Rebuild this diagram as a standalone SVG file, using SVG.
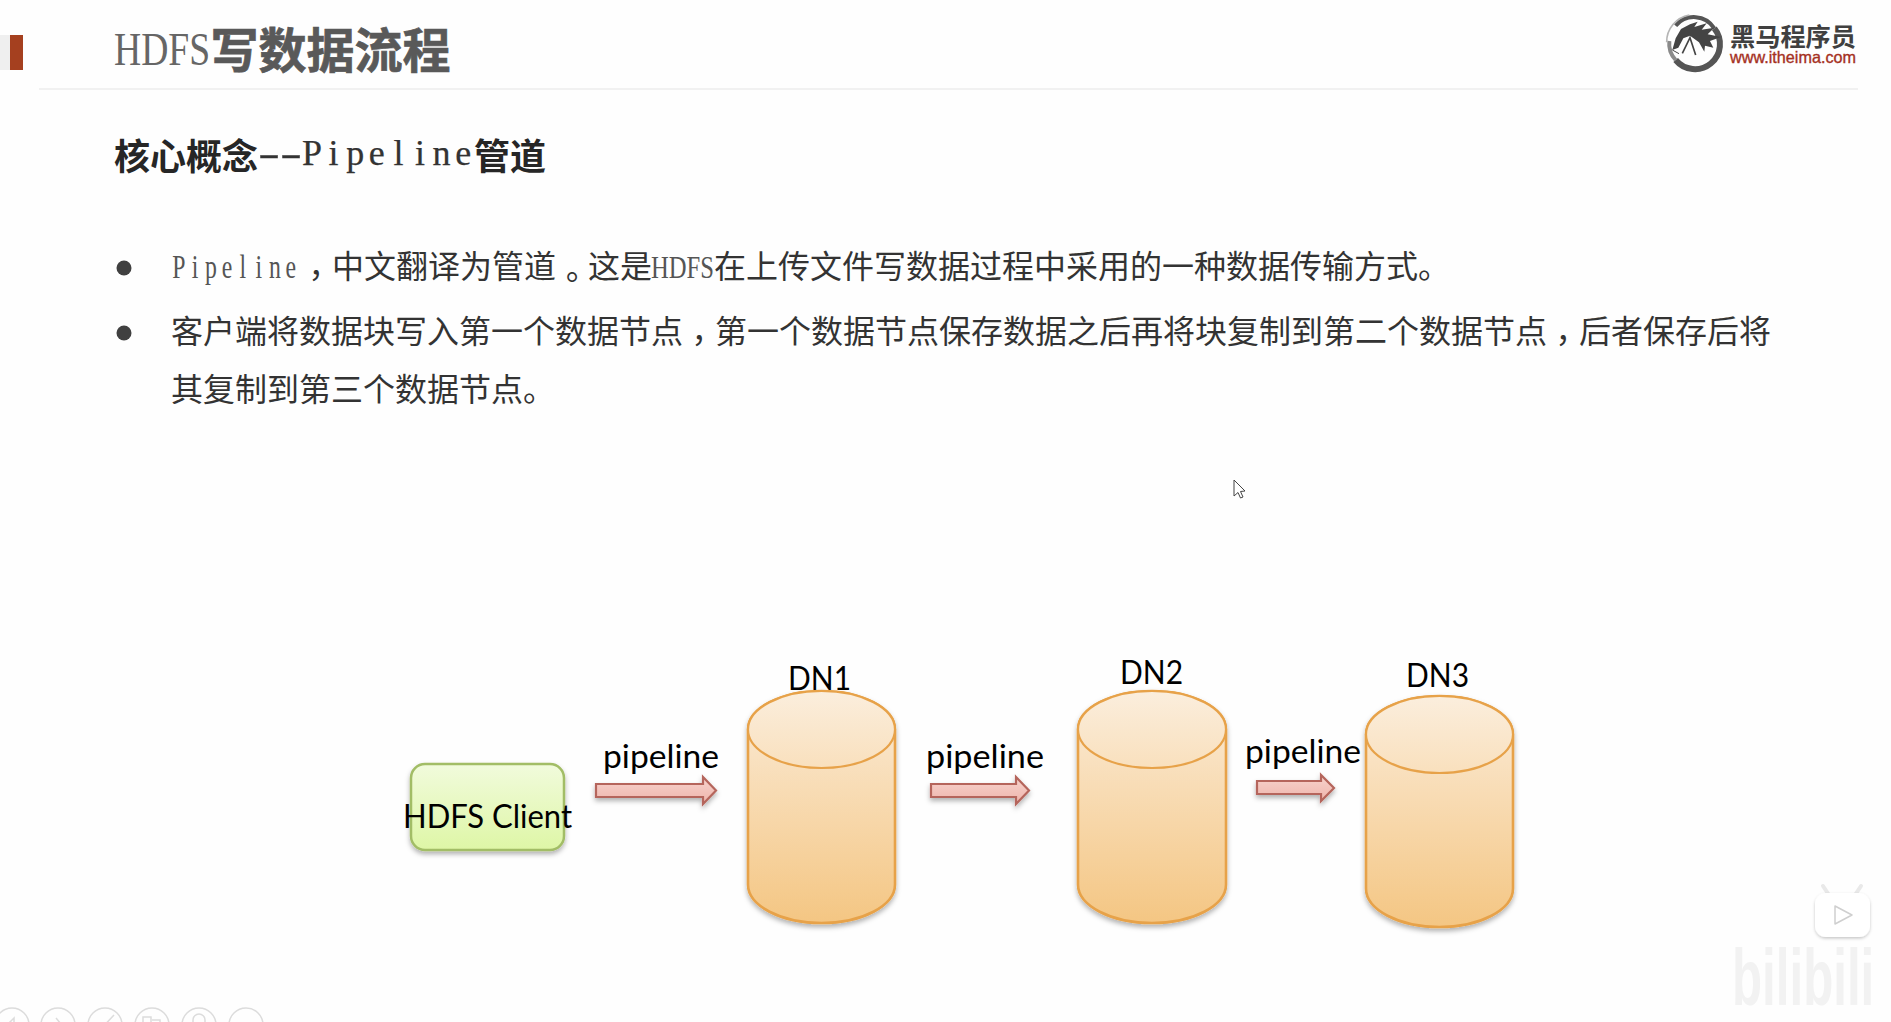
<svg xmlns="http://www.w3.org/2000/svg" width="1891" height="1022" viewBox="0 0 1891 1022">
<style>
.cjk{font-family:"Noto Sans CJK SC","Liberation Sans",sans-serif}
.tc{font-family:"Noto Sans CJK TC","Liberation Sans",sans-serif}
.title{font-size:48px;font-weight:700;fill:#595959;stroke:#595959;stroke-width:.7}
.sub{font-size:36px;font-weight:700;fill:#262626}
.body{font-size:32px;fill:#333}
.serif{font-family:"Liberation Serif","Noto Sans CJK SC",serif}
.lab{font-family:Lato,"Liberation Sans",sans-serif;font-size:33px;fill:#000}
.cyl{stroke:#e7a249;stroke-width:2.6;fill:url(#cylGrad)}
.top{stroke:#e7a249;stroke-width:2.2;fill:url(#topGrad)}
.arr{fill:url(#arrGrad);stroke:#b5655b;stroke-width:2.2;filter:url(#sh)}
.btn{fill:none;stroke:#dcdcdc;stroke-width:1.5}
</style>
<defs>
<linearGradient id="cylGrad" x1="0" y1="0" x2="0" y2="1"><stop offset="0" stop-color="#fbecd9"/><stop offset="1" stop-color="#f4c683"/></linearGradient>
<linearGradient id="topGrad" x1="0" y1="0" x2="0" y2="1"><stop offset="0" stop-color="#fbeedd"/><stop offset="1" stop-color="#f9e0bd"/></linearGradient>
<linearGradient id="boxGrad" x1="0" y1="0" x2="0" y2="1"><stop offset="0" stop-color="#f1fbdc"/><stop offset="1" stop-color="#def6a6"/></linearGradient>
<linearGradient id="arrGrad" x1="0" y1="0" x2="0" y2="1"><stop offset="0" stop-color="#f7d3cd"/><stop offset="1" stop-color="#eeb4ab"/></linearGradient>
<filter id="sh" x="-20%" y="-30%" width="140%" height="170%"><feDropShadow dx="0" dy="3" stdDeviation="2.5" flood-color="#000" flood-opacity=".3"/></filter>
<filter id="soft" x="-20%" y="-20%" width="140%" height="150%"><feDropShadow dx="0" dy="1.5" stdDeviation="1.5" flood-color="#000" flood-opacity=".22"/></filter>
</defs>
<rect width="1891" height="1022" fill="#fefefe"/>

<g id="header">
<rect x="0" y="35" width="10" height="35" fill="#efefef"/>
<rect x="10" y="35" width="13" height="35" fill="#a5401f"/>
<rect x="39" y="88" width="1819" height="2" fill="#f1f1f1"/>
<text transform="translate(114 65) scale(.8 1)" class="serif" font-size="47" fill="#666">HDFS</text>
<text x="210.500" y="68" class="cjk title">写数据流程</text>
</g>

<g id="logo">
<g transform="translate(1655 5) scale(.3333)" fill="none">
<path d="M62 62A72 72 0 0 1 178 70" stroke="#555" stroke-width="12"/>
<path d="M178 70A72 72 0 0 1 62 165" stroke="#555" stroke-width="18"/>
<path d="M62 165A72 72 0 0 1 43 108" stroke="#8a8a8a" stroke-width="12"/>
<path d="M35 112A82 82 0 0 1 103 30" stroke="#b5b5b5" stroke-width="5"/>
<path d="M52 135L62 100L78 72L105 58L128 50L118 66L155 55L140 74L178 68L158 88L198 96L165 108L175 128L150 122L148 140L132 112L105 92L85 100L70 128Z" fill="#444"/>
<path d="M82 145L105 98L122 150" stroke="#444" stroke-width="5"/>
<path d="M52 135L72 146" stroke="#444" stroke-width="3"/>
</g>
<text x="1730" y="46" class="cjk" font-size="25" font-weight="700" fill="#404040" textLength="126" lengthAdjust="spacingAndGlyphs">黑马程序员</text>
<text x="1730" y="63" font-family="Liberation Sans,sans-serif" font-size="16.5" fill="#a5301f" stroke="#a5301f" stroke-width=".35" textLength="126" lengthAdjust="spacingAndGlyphs">www.itheima.com</text>
</g>

<g id="subtitle">
<text x="114" y="170" class="cjk sub">核心概念</text>
<text y="165" class="serif" font-size="36" fill="#333" stroke="#333" stroke-width=".25"><tspan x="258" textLength="44" lengthAdjust="spacingAndGlyphs">--</tspan><tspan x="302 328.600 346.200 368.800 393.400 415 432.600 455.200">Pipeline</tspan></text>
<text x="474" y="170" class="cjk sub">管道</text>
</g>

<g id="bullets">
<circle cx="124" cy="268" r="7.500" fill="#404040"/>
<circle cx="124" cy="333" r="7.500" fill="#404040"/>
<text transform="translate(171 278) scale(.72 1)" class="serif" font-size="33" fill="#555" x="1.900 28.700 47.200 70.400 95.300 117.500 136 159.200">Pipeline</text>
<text y="278" class="cjk body"><tspan x="300" dy="9" class="tc">，</tspan><tspan x="332" dy="-9">中文翻译为管道</tspan><tspan x="556" dy="11" class="tc">。</tspan><tspan x="588" dy="-11">这是</tspan><tspan x="651" class="serif" fill="#555" textLength="63" lengthAdjust="spacingAndGlyphs">HDFS</tspan><tspan x="714">在上传文件写数据过程中采用的一种数据传输方式。</tspan></text>
<text y="343" class="cjk body"><tspan x="171">客户端将数据块写入第一个数据节点</tspan><tspan x="683" dy="9" class="tc">，</tspan><tspan x="715" dy="-9">第一个数据节点保存数据之后再将块复制到第二个数据节点</tspan><tspan x="1547" dy="9" class="tc">，</tspan><tspan x="1579" dy="-9">后者保存后将</tspan></text>
<text x="171" y="401" class="cjk body">其复制到第三个数据节点。</text>
</g>

<path id="cursor" d="M1234 480V496L1238 492.500L1240.500 498L1243 497L1240.500 491.500L1245 491Z" fill="#fff" stroke="#444" stroke-width="1"/>

<g id="connectors">
<path class="arr" d="M596 784H703V777L716 790.500L703 804V797H596Z"/>
<path class="arr" d="M931 784H1016V777L1029 790.500L1016 804V797H931Z"/>
<path class="arr" d="M1257 781H1321V775L1334 788L1321 801V794H1257Z"/>
<text x="603" y="768" class="lab" textLength="116" lengthAdjust="spacingAndGlyphs">pipeline</text>
<text x="926" y="768" class="lab" textLength="118" lengthAdjust="spacingAndGlyphs">pipeline</text>
<text x="1245" y="763" class="lab" textLength="116" lengthAdjust="spacingAndGlyphs">pipeline</text>
</g>

<g id="client">
<rect x="411" y="764" width="153" height="86" rx="14" fill="url(#boxGrad)" stroke="#a2bd66" stroke-width="2.500" filter="url(#sh)"/>
<text x="403" y="828" class="lab" textLength="169" lengthAdjust="spacingAndGlyphs">HDFS Client</text>
</g>

<g id="dn1">
<path class="cyl" filter="url(#sh)" d="M748 729.500V884.500A73.500 38.500 0 0 0 895 884.500V729.500A73.500 38.500 0 0 0 748 729.500Z"/>
<ellipse class="top" cx="821.500" cy="729.500" rx="73.500" ry="38.500"/>
<text x="788" y="690" class="lab" textLength="63" lengthAdjust="spacingAndGlyphs">DN1</text>
</g>
<g id="dn2">
<path class="cyl" filter="url(#sh)" d="M1078 729.500V884.500A74 38.500 0 0 0 1226 884.500V729.500A74 38.500 0 0 0 1078 729.500Z"/>
<ellipse class="top" cx="1152" cy="729.500" rx="74" ry="38.500"/>
<text x="1120" y="684" class="lab" textLength="63" lengthAdjust="spacingAndGlyphs">DN2</text>
</g>
<g id="dn3">
<path class="cyl" filter="url(#sh)" d="M1366 734.500V888.500A73.500 38.500 0 0 0 1513 888.500V734.500A73.500 38.500 0 0 0 1366 734.500Z"/>
<ellipse class="top" cx="1439.500" cy="734.500" rx="73.500" ry="38.500"/>
<text x="1406" y="687" class="lab" textLength="63" lengthAdjust="spacingAndGlyphs">DN3</text>
</g>

<g id="player-controls">
<circle class="btn" cx="12" cy="1025" r="17"/><circle class="btn" cx="58" cy="1025" r="17"/><circle class="btn" cx="105" cy="1025" r="17"/><circle class="btn" cx="152" cy="1025" r="17"/><circle class="btn" cx="199" cy="1025" r="17"/><circle class="btn" cx="246" cy="1025" r="17"/>
<path class="btn" d="M8 1024L14 1018V1024M56 1018L61 1024M100 1030L114 1015M143 1017H151V1023H143ZM152 1020H160V1024M193 1024V1020A6 6 0 0 1 205 1020V1024"/>
</g>

<g id="watermark">
<path d="M1829 895L1823 886M1855 895L1861 886" stroke="#e9e9e9" stroke-width="4" stroke-linecap="round"/>
<rect x="1815" y="893" width="55" height="44" rx="11" fill="#fff" filter="url(#soft)"/>
<path d="M1835 906L1852 915L1835 924Z" fill="#fff" stroke="#cfcfcf" stroke-width="1.500" stroke-linejoin="round"/>
<text transform="translate(1732 1005) scale(1.12 1.82)" font-family="Liberation Sans,sans-serif" font-weight="700" font-size="44" fill="#f2f2f2">bilibili</text>
</g>
</svg>
